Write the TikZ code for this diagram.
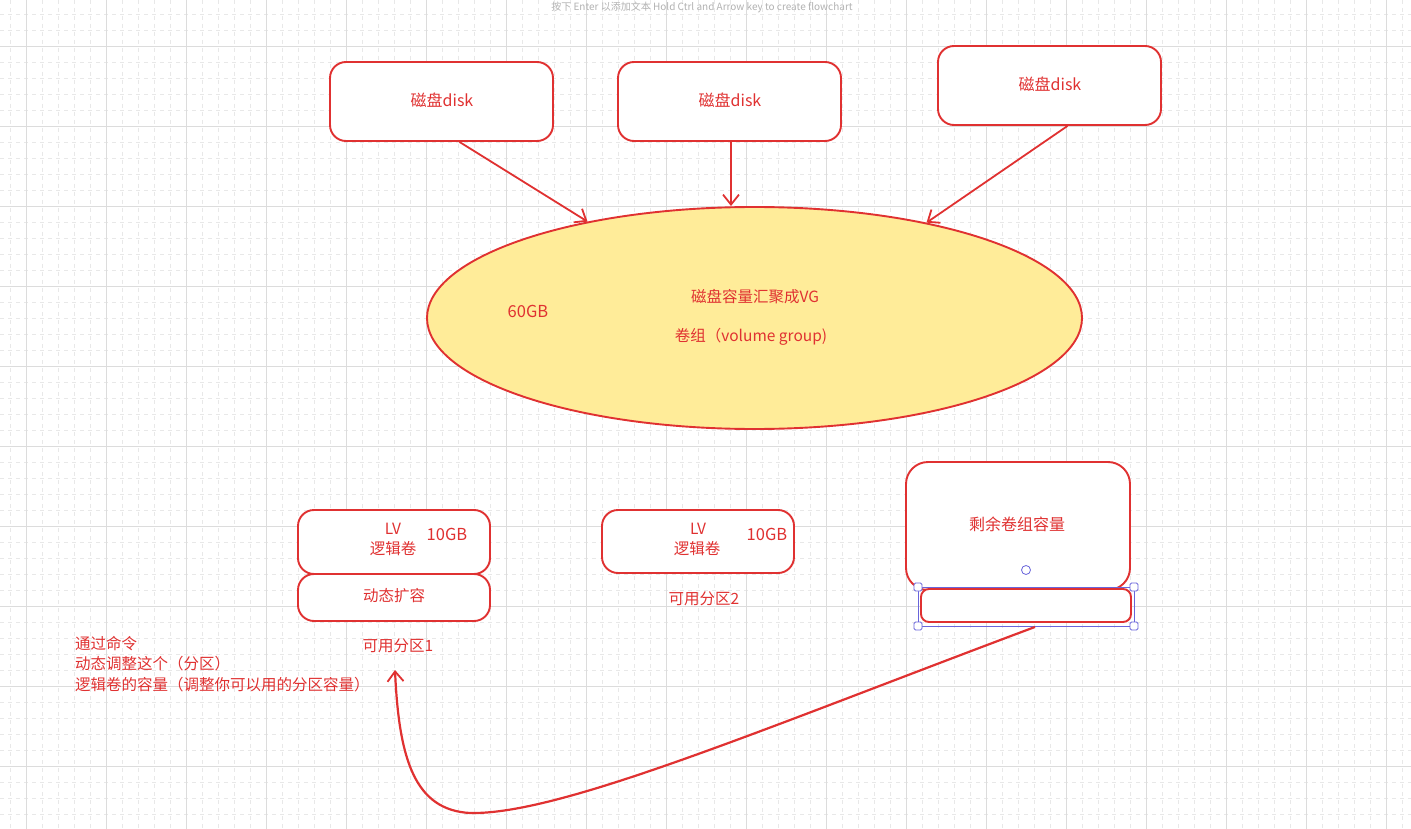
\documentclass[tikz,border=0pt]{standalone}
\usepackage{fontspec}
\setmainfont{Noto Sans CJK SC}
\usetikzlibrary{shapes.geometric,arrows.meta}
\definecolor{exred}{HTML}{E03131}
\definecolor{exyellow}{HTML}{FFEC99}
\definecolor{gridmaj}{HTML}{DCDCDC}
\definecolor{gridmin}{HTML}{E8E8E8}
\definecolor{selblue}{HTML}{6965DB}
\begin{document}
\begin{tikzpicture}[x=1pt,y=-1pt,
  gmin/.style={draw=gridmin, line width=0.8pt, dash pattern=on 4pt off 4pt},
  gmaj/.style={draw=gridmaj, line width=1pt},
  box/.style={draw=exred, line width=1.9pt, rounded corners=16pt, fill=white, inner sep=0pt},
  lbl/.style={text=exred, font=\fontsize{15.5}{18}\selectfont, inner sep=0pt},
  arr/.style={draw=exred, line width=1.8pt, -{Straight Barb[length=10pt,width=16pt,line width=1.8pt]}},
  handle/.style={draw=selblue, line width=0.8pt, fill=white, rounded corners=1.5pt, minimum size=8pt, inner sep=0pt}]
\useasboundingbox (0,0) rectangle (1411,829);
\fill[white] (0,0) rectangle (1411,829);
% grid
\foreach \i in {0,...,88} \draw[gmin] ({10.67+16*\i},0) -- ({10.67+16*\i},829);
\foreach \j in {0,...,51} \draw[gmin] (0,{14.67+16*\j}) -- (1411,{14.67+16*\j});
\foreach \i in {0,...,17} \draw[gmaj] ({26.67+80*\i},0) -- ({26.67+80*\i},829);
\foreach \j in {0,...,9} \draw[gmaj] (0,{46.67+80*\j}) -- (1411,{46.67+80*\j});
% top hint
\node[text=gray!60, font=\fontsize{10}{12}\selectfont, inner sep=0pt] (hint) at (702,7) {按下 Enter 以添加文本 Hold Ctrl and Arrow key to create flowchart};
% disks
\node[box, minimum width=223pt, minimum height=79pt] (d1) at (441.5,101.5) {};
\node[box, minimum width=223pt, minimum height=79pt] (d2) at (729.5,101.5) {};
\node[box, minimum width=223pt, minimum height=79pt] (d3) at (1049.5,85.5) {};
\node[lbl, font=\fontsize{16}{19}\selectfont] (t1) at (442,100) {磁盘disk};
\node[lbl, font=\fontsize{16}{19}\selectfont] (t2) at (730,100) {磁盘disk};
\node[lbl, font=\fontsize{16}{19}\selectfont] (t3) at (1050,84) {磁盘disk};
% VG ellipse
\node[ellipse, draw=exred, line width=1.9pt, fill=exyellow, minimum width=655pt, minimum height=222pt, inner sep=0pt] (vg) at (754.5,318) {};
\node[lbl, font=\fontsize{15.5}{18}\selectfont] (vg1) at (755,297) {磁盘容量汇聚成VG};
\node[lbl, font=\fontsize{15.5}{18}\selectfont] (vg2) at (751,337) {卷组（volume group)};
\node[lbl, font=\fontsize{16.5}{19}\selectfont] (vgsize) at (528,311) {60GB};
% arrows disks -> VG
\draw[arr] ([xshift=18pt]d1.south) -- (vg.150);
\draw[arr] ([xshift=1.5pt]d2.south) -- ([xshift=1.5pt]d2.south |- vg.north);
\draw[arr] ([xshift=18pt]d3.south) -- (vg.29.5);
% LV 1
\node[box, minimum width=192pt, minimum height=64pt] (lv1) at (394,542) {};
\node[lbl] (lv1a) at (393,529) {LV};
\node[lbl] (lv1b) at (393,549) {逻辑卷};
\node[lbl, font=\fontsize{16.5}{19}\selectfont] (lv1c) at (447,534) {10GB};
\node[box, minimum width=192pt, minimum height=47pt] (ext) at (394,597.5) {};
\node[lbl] (extt) at (394,596) {动态扩容};
\node[lbl] (p1) at (398,646) {可用分区1};
% LV 2
\node[box, minimum width=192pt, minimum height=63pt] (lv2) at (698,541.5) {};
\node[lbl] (lv2a) at (698,529) {LV};
\node[lbl] (lv2b) at (697,549) {逻辑卷};
\node[lbl, font=\fontsize{16.5}{19}\selectfont] (lv2c) at (767,534) {10GB};
\node[lbl] (p2) at (704,599) {可用分区2};
% remaining
\node[box, minimum width=224pt, minimum height=128pt, rounded corners=22pt] (rem) at (1018,526) {};
\node[lbl, font=\fontsize{16}{19}\selectfont] (remt) at (1017,524) {剩余卷组容量};
\node[box, minimum width=210pt, minimum height=33pt, rounded corners=8pt] (sb) at (1026,605.5) {};
% selection frame
\draw[selblue, line width=0.8pt] (918,587) rectangle (1134,626);
\node[handle] (h1) at (918,587) {};
\node[handle] (h2) at (1134,587) {};
\node[handle] (h3) at (918,626) {};
\node[handle] (h4) at (1134,626) {};
\node[circle, draw=selblue, line width=0.8pt, fill=white, minimum size=9pt, inner sep=0pt] (rot) at (1026,570) {};
% curved arrow
\coordinate (tip) at (395,670);
\draw[arr, line width=2.2pt] ([xshift=9pt,yshift=-4pt]sb.south) .. controls (760,730) and (560,815) .. (470,813) .. controls (415,810) and (399,760) .. (tip);
% note
\node[lbl, align=left, anchor=north west, font=\fontsize{15.5}{20.5}\selectfont] (note) at (75,636) {通过命令\\动态调整这个（分区）\\逻辑卷的容量（调整你可以用的分区容量）};
\end{tikzpicture}
\end{document}
